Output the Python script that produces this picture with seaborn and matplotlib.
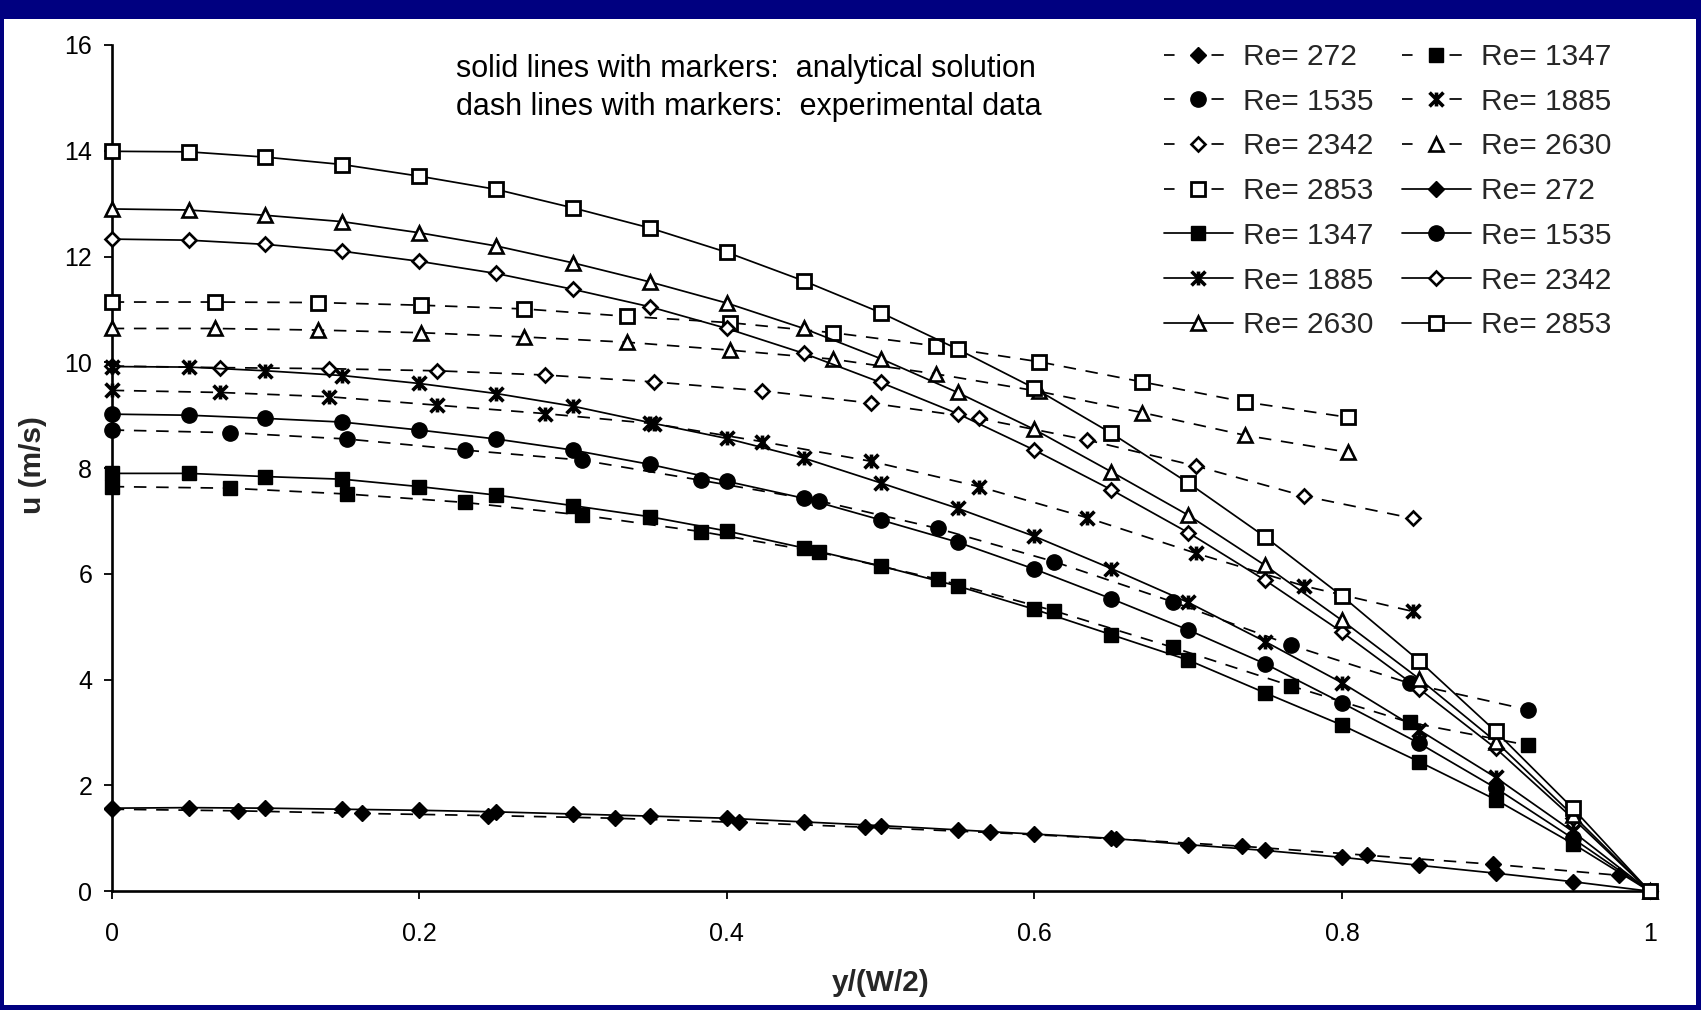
import matplotlib
matplotlib.use("Agg")
import matplotlib.pyplot as plt
from matplotlib.patches import Rectangle
from matplotlib.lines import Line2D
from matplotlib.path import Path
import pandas as pd
import seaborn as sns

# ---------------------------------------------------------------------------
# Velocity profiles u(y) across the channel half-width, y/(W/2) from 0 to 1
# ---------------------------------------------------------------------------
reynolds = [272, 1347, 1535, 1885, 2342, 2630, 2853]

# analytical solution, evaluated every 0.05 of the half-width
x_model = [0.00, 0.05, 0.10, 0.15, 0.20, 0.25, 0.30, 0.35, 0.40, 0.45, 0.50,
           0.55, 0.60, 0.65, 0.70, 0.75, 0.80, 0.85, 0.90, 0.95, 1.00]
u_model_272 = [1.57, 1.58, 1.57, 1.55, 1.53, 1.50, 1.46, 1.42, 1.38, 1.31, 1.24,
               1.16, 1.08, 1.00, 0.88, 0.77, 0.64, 0.49, 0.34, 0.18, 0.00]
u_model_1347 = [7.90, 7.90, 7.84, 7.79, 7.65, 7.49, 7.29, 7.08, 6.81, 6.49, 6.15,
                5.77, 5.33, 4.85, 4.37, 3.75, 3.14, 2.45, 1.73, 0.90, 0.00]
u_model_1535 = [9.02, 9.00, 8.94, 8.87, 8.72, 8.55, 8.34, 8.07, 7.75, 7.43, 7.02,
                6.60, 6.09, 5.53, 4.94, 4.30, 3.56, 2.80, 1.95, 1.00, 0.00]
u_model_1885 = [9.92, 9.91, 9.84, 9.75, 9.60, 9.41, 9.17, 8.86, 8.56, 8.19, 7.72,
                7.24, 6.71, 6.10, 5.46, 4.72, 3.94, 3.05, 2.15, 1.13, 0.00]
u_model_2342 = [12.33, 12.31, 12.23, 12.10, 11.91, 11.68, 11.38, 11.05, 10.64, 10.17, 9.62,
                9.03, 8.34, 7.59, 6.78, 5.88, 4.90, 3.83, 2.70, 1.38, 0.00]
u_model_2630 = [12.90, 12.88, 12.78, 12.66, 12.45, 12.20, 11.88, 11.52, 11.12, 10.64, 10.07,
                9.43, 8.73, 7.93, 7.11, 6.16, 5.12, 4.02, 2.83, 1.44, 0.00]
u_model_2853 = [13.99, 13.98, 13.88, 13.74, 13.52, 13.27, 12.92, 12.54, 12.08, 11.54, 10.94,
                10.25, 9.51, 8.66, 7.72, 6.70, 5.58, 4.36, 3.02, 1.57, 0.00]

# experimental data (probe positions differ between runs)
x_exp_272 = [0.000, 0.082, 0.163, 0.245, 0.327, 0.408, 0.490, 0.571, 0.653, 0.735, 0.816, 0.898, 0.980]
u_exp_272 = [1.55, 1.52, 1.47, 1.43, 1.38, 1.30, 1.21, 1.11, 0.99, 0.85, 0.68, 0.51, 0.30]

x_exp_1347 = [0.000, 0.077, 0.153, 0.230, 0.306, 0.383, 0.460, 0.537, 0.613, 0.690, 0.767, 0.844, 0.921]
u_exp_1347 = [7.65, 7.62, 7.51, 7.35, 7.11, 6.80, 6.41, 5.90, 5.30, 4.61, 3.88, 3.19, 2.76]

x_exp_1535 = [0.000, 0.077, 0.153, 0.230, 0.306, 0.383, 0.460, 0.537, 0.613, 0.690, 0.767, 0.844, 0.921]
u_exp_1535 = [8.72, 8.67, 8.55, 8.34, 8.15, 7.77, 7.38, 6.86, 6.23, 5.47, 4.65, 3.93, 3.43]

x_exp_1885 = [0.000, 0.0705, 0.141, 0.2115, 0.282, 0.3525, 0.423, 0.4935, 0.564, 0.6345, 0.705, 0.7755, 0.846]
u_exp_1885 = [9.47, 9.43, 9.35, 9.19, 9.03, 8.84, 8.50, 8.13, 7.65, 7.06, 6.39, 5.77, 5.29]

x_exp_2342 = [0.000, 0.0705, 0.141, 0.2115, 0.282, 0.3525, 0.423, 0.4935, 0.564, 0.6345, 0.705, 0.7755, 0.846]
u_exp_2342 = [9.93, 9.90, 9.88, 9.84, 9.76, 9.63, 9.46, 9.23, 8.94, 8.53, 8.04, 7.47, 7.05]

x_exp_2630 = [0.000, 0.067, 0.134, 0.201, 0.268, 0.335, 0.402, 0.469, 0.536, 0.603, 0.670, 0.737, 0.804]
u_exp_2630 = [10.64, 10.64, 10.61, 10.56, 10.48, 10.38, 10.23, 10.06, 9.78, 9.45, 9.05, 8.62, 8.30]

x_exp_2853 = [0.000, 0.067, 0.134, 0.201, 0.268, 0.335, 0.402, 0.469, 0.536, 0.603, 0.670, 0.737, 0.804]
u_exp_2853 = [11.14, 11.14, 11.13, 11.08, 11.01, 10.87, 10.75, 10.56, 10.31, 10.01, 9.63, 9.25, 8.96]

x_ticks = [0, 0.2, 0.4, 0.6, 0.8, 1.0]
x_tick_labels = ["0", "0.2", "0.4", "0.6", "0.8", "1"]
y_ticks = [0, 2, 4, 6, 8, 10, 12, 14, 16]

model_u = {272: u_model_272, 1347: u_model_1347, 1535: u_model_1535, 1885: u_model_1885,
           2342: u_model_2342, 2630: u_model_2630, 2853: u_model_2853}
exp_xy = {272: (x_exp_272, u_exp_272), 1347: (x_exp_1347, u_exp_1347),
          1535: (x_exp_1535, u_exp_1535), 1885: (x_exp_1885, u_exp_1885),
          2342: (x_exp_2342, u_exp_2342), 2630: (x_exp_2630, u_exp_2630),
          2853: (x_exp_2853, u_exp_2853)}

# asterisk marker: an X inscribed in a square plus a vertical bar
ASTERISK = Path([(0, -1), (0, 1), (-1, -1), (1, 1), (-1, 1), (1, -1)],
                [Path.MOVETO, Path.LINETO, Path.MOVETO, Path.LINETO,
                 Path.MOVETO, Path.LINETO])

# marker style per Reynolds number: (marker, size, face colour, edge width)
marker_style = {
    272: ("D", 8.4, "black", 1.0),
    1347: ("s", 10.5, "black", 1.0),
    1535: ("o", 11.0, "black", 1.0),
    1885: (ASTERISK, 10.0, "none", 2.6),
    2342: ("D", 7.0, "white", 1.9),
    2630: ("^", 9.6, "white", 1.9),
    2853: ("s", 9.8, "white", 2.0),
}

DASH = (0, (9, 7))
LW = 1.25

sns.set_theme(style="white")
plt.rcParams["font.family"] = ["Liberation Sans", "DejaVu Sans"]
plt.rcParams["lines.scale_dashes"] = False

W, H = 1701, 1010
NAVY = "#000080"
fig = plt.figure(figsize=(W / 100, H / 100), dpi=100)
fig.patch.set_facecolor(NAVY)
# white slide area inside the navy frame
fig.add_artist(Rectangle((4 / W, 5 / H), (W - 9) / W, (H - 5 - 19) / H,
                         transform=fig.transFigure, facecolor="white",
                         edgecolor="none", zorder=-5))

ax_l, ax_r, ax_b, ax_t = 111.7, 1649.6, 891.2, 45.0
ax = fig.add_axes([ax_l / W, 1 - ax_b / H, (ax_r - ax_l) / W, (ax_b - ax_t) / H])
ax.set_facecolor("none")


def style_kws(re, dashed):
    mk, ms, fc, mew = marker_style[re]
    return dict(color="black", linewidth=LW, linestyle=DASH if dashed else "-",
                marker=mk, markersize=ms, markerfacecolor=fc,
                markeredgecolor="black", markeredgewidth=mew)


for re in reynolds:
    xe, ue = exp_xy[re]
    df_exp = pd.DataFrame({"y_rel": xe, "u": ue})
    sns.lineplot(data=df_exp, x="y_rel", y="u", ax=ax, sort=False, estimator=None,
                 legend=False, clip_on=False, zorder=3, **style_kws(re, True))

for re in reynolds:
    df_mod = pd.DataFrame({"y_rel": x_model, "u": model_u[re]})
    sns.lineplot(data=df_mod, x="y_rel", y="u", ax=ax, sort=False, estimator=None,
                 legend=False, clip_on=False, zorder=4, **style_kws(re, False))

ax.set_xlim(0, 1)
ax.set_ylim(0, 16)
ax.set_xticks(x_ticks)
ax.set_xticklabels(x_tick_labels)
ax.set_yticks(y_ticks)
ax.set_yticklabels([str(v) for v in y_ticks])
ax.tick_params(axis="both", direction="out", length=6, width=1.3, color="black",
               labelsize=18, labelcolor="black", bottom=True, left=True)
ax.tick_params(axis="x", pad=16)
ax.tick_params(axis="y", pad=8)
for side in ("top", "right"):
    ax.spines[side].set_visible(False)
for side in ("left", "bottom"):
    ax.spines[side].set_color("black")
    ax.spines[side].set_linewidth(1.9)
ax.grid(False)

ax.set_xlabel("y/(W/2)", fontsize=21.5, fontweight="bold", va="center")
ax.xaxis.set_label_coords(0.5, (ax_b - 983) / (ax_b - ax_t))
ax.set_ylabel("u (m/s)", fontsize=21.5, fontweight="bold", va="center", ha="center")
ax.yaxis.set_label_coords(-(ax_l - 32.5) / (ax_r - ax_l), (ax_b - 465) / (ax_b - ax_t))

fig.text(455.6 / W, 1 - 69 / H, "solid lines with markers:  analytical solution",
         fontsize=22, va="center", ha="left", color="black")
fig.text(455.6 / W, 1 - 107 / H, "dash lines with markers:  experimental data",
         fontsize=22, va="center", ha="left", color="black")

# legend: experimental runs first, then analytical ones, laid out row by row
entries = []
for re in reynolds:
    kw = style_kws(re, True)
    kw["linestyle"] = (0, (7.6, 26.6, 8.8, 100))
    entries.append((Line2D([], [], **kw), f"Re= {re}"))
for re in reynolds:
    entries.append((Line2D([], [], **style_kws(re, False)), f"Re= {re}"))
ordered = entries[0::2] + entries[1::2]
leg = fig.legend([h for h, _ in ordered], [l for _, l in ordered], ncol=2,
                 loc="upper left", bbox_to_anchor=(1164 / W, 1 - 43 / H),
                 frameon=False, fontsize=21.5, handlelength=2.3, handletextpad=0.35,
                 columnspacing=0.95, labelspacing=0.56, borderpad=0, borderaxespad=0,
                 numpoints=1)

fig.savefig("out.png", dpi=100, facecolor=fig.get_facecolor())
